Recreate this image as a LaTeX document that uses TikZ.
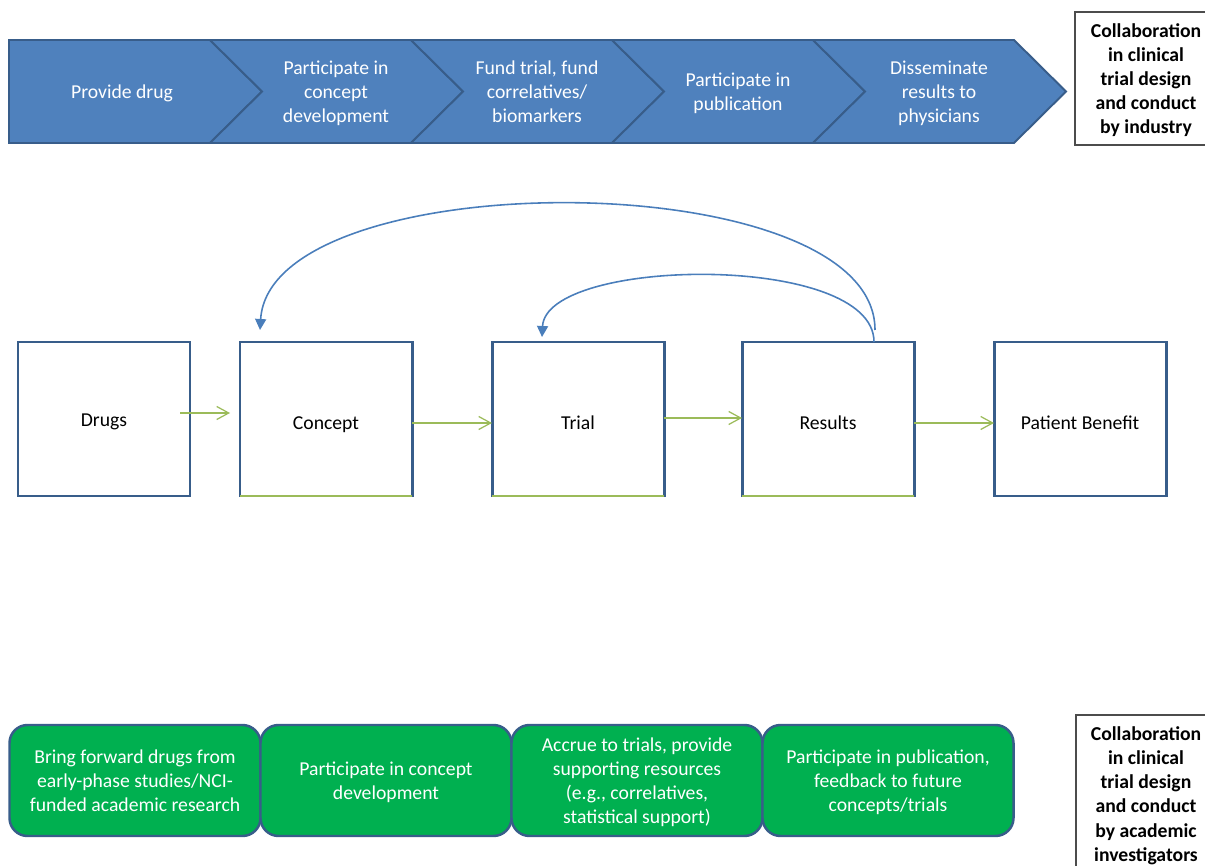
\documentclass[tikz,border=0pt]{standalone}
\usepackage{fontspec}
\setmainfont{Carlito}
\usepackage{tikz}
\newcommand*{\diagfont}{\fontsize{11.2}{13.7}\selectfont}
\usetikzlibrary{arrows.meta, positioning}
\definecolor{chevblue}{HTML}{4F81BD}
\definecolor{edgeblue}{HTML}{385D8A}
\definecolor{arcblue}{HTML}{4A7EBB}
\definecolor{linkgreen}{HTML}{9BBB59}
\definecolor{academicgreen}{HTML}{00B050}
\tikzstyle{chevron} = [draw=edgeblue, fill=chevblue, line width=1.1pt, line join=miter]
\tikzstyle{chevtext} = [text=white, align=center, text depth=0pt, font=\diagfont]
\tikzstyle{stage} = [draw=edgeblue, line width=1.7pt, rectangle, minimum width=34.4mm, minimum height=30.8mm, outer sep=0pt, inner sep=0pt, text height=12.1pt, text depth=0pt, font=\diagfont]
\tikzstyle{effort} = [draw=edgeblue, fill=academicgreen, line width=1.4pt, rounded corners=3.6mm, minimum width=50.2mm, minimum height=22.2mm, outer sep=0pt, inner sep=0pt, text=white, align=center, text depth=0pt, font=\diagfont]
\tikzstyle{role} = [draw=black!70, line width=0.6pt, align=center, inner sep=0pt, text depth=0pt, font=\diagfont\bfseries]
\tikzstyle{flow} = [-{Straight Barb[length=2.4mm, width=2.6mm]}, linkgreen, line width=0.7pt]
\tikzstyle{feedback} = [-{Triangle[length=2.2mm, width=2.2mm]}, arcblue, line width=0.9pt]

\begin{document}
\begin{tikzpicture}[x=0.2mm, y=-0.2mm, node distance=16mm]
    \useasboundingbox (0,0) rectangle (1205,866);

    % Industry chevrons.
    \draw [chevron] (9,40) -- (210,40) -- (262,91.5) -- (210,143) -- (9,143) -- cycle;
    \foreach\a in {210, 411, 612, 813} {
        \draw [chevron] (\a,40) -- ++(201,0) -- ++(52,51.5) -- ++(-52,51.5) -- ++(-201,0) -- ++(52,-51.5) -- cycle;
    }
    \node (industry1) [chevtext] at (122,91.5) {Provide drug};
    \node (industry2) [chevtext] at (336,91.5) {Participate in\\concept\\development};
    \node (industry3) [chevtext] at (537,91.5) {Fund trial, fund\\correlatives/\\biomarkers};
    \node (industry4) [chevtext] at (738,91.5) {Participate in\\publication};
    \node (industry5) [chevtext] at (939,91.5) {Disseminate\\results to\\physicians};
    \node (industryrole) [role, minimum width=28.4mm, minimum height=26.6mm] at (1146,78.5)
        {Collaboration\\in clinical\\trial design\\and conduct\\by industry};

    % Stages.
    \node (drugs) [stage, text height=8.7pt] at (104,419) {Drugs};
    \node (concept) [stage, right=10mm of drugs] {Concept};
    \node (trial) [stage, right=of concept] {Trial};
    \node (results) [stage, right=15.6mm of trial] {Results};
    \node (benefit) [stage, right=of results] {Patient Benefit};
    \foreach\s in {concept, trial, results} {
        \draw [linkgreen, line width=1.7pt] (\s.south west) -- (\s.south east);
    }

    % Arrows.
    \draw [flow] ([xshift=-2mm, yshift=1.2mm]drugs.east) -- ([xshift=-2mm, yshift=1.2mm]concept.west);
    \draw [flow] ([yshift=-0.8mm]concept.east) -- ([yshift=-0.8mm]trial.west);
    \draw [flow] ([yshift=0.2mm]trial.east) -- ([yshift=0.2mm]results.west);
    \draw [flow] ([yshift=-0.8mm]results.east) -- ([yshift=-0.8mm]benefit.west);
    \draw [feedback] ([xshift=9.4mm, yshift=2.4mm]results.north) .. controls +(0,-168) and +(10,-168) .. ([xshift=4mm, yshift=2.4mm]concept.north west);
    \draw [feedback] ([xshift=9.2mm]results.north) .. controls +(0,-90) and +(4,-80) .. ([xshift=10mm, yshift=1mm]trial.north west);

    % Academic boxes.
    \node (academic1) [effort] at (135,780.5) {Bring forward drugs from\\early-phase studies/NCI-\\funded academic research};
    \node (academic2) [effort, right=0pt of academic1] {Participate in concept\\development};
    \node (academic3) [effort, right=0pt of academic2] {Accrue to trials, provide\\supporting resources\\(e.g., correlatives,\\statistical support)};
    \node (academic4) [effort, right=0pt of academic3] {Participate in publication,\\feedback to future\\concepts/trials};
    \node (academicrole) [role, minimum width=28mm, minimum height=31.6mm] at (1146,794)
        {Collaboration\\in clinical\\trial design\\and conduct\\by academic\\investigators};
\end{tikzpicture}
\end{document}
